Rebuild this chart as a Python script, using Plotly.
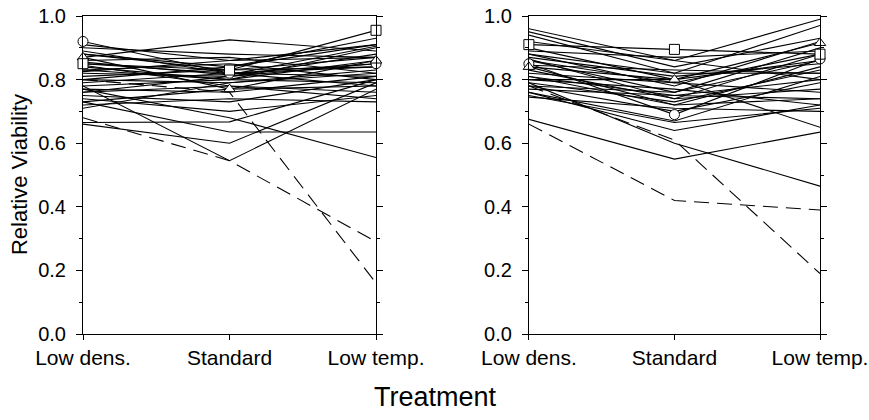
import plotly.graph_objects as go

treatments = ["Low dens.", "Standard", "Low temp."]

# Left panel: each line = viability at [Low dens., Standard, Low temp.]
left_circle = [0.92, 0.82, 0.85]
left_triangle = [0.87, 0.77, 0.86]
left_square = [0.85, 0.83, 0.955]
left_dashed = [
    [0.68, 0.545, 0.29],
    [0.80, 0.76, 0.16],
]
left_lines = [
    [0.665, 0.667, 0.80],
    [0.73, 0.635, 0.635],
    [0.66, 0.60, 0.79],
    [0.78, 0.545, 0.77],
    [0.77, 0.68, 0.555],
    [0.87, 0.925, 0.89],
    [0.91, 0.86, 0.91],
    [0.90, 0.88, 0.87],
    [0.88, 0.84, 0.93],
    [0.86, 0.87, 0.82],
    [0.84, 0.80, 0.90],
    [0.83, 0.85, 0.80],
    [0.82, 0.81, 0.88],
    [0.81, 0.83, 0.84],
    [0.80, 0.79, 0.82],
    [0.79, 0.82, 0.78],
    [0.78, 0.80, 0.86],
    [0.77, 0.76, 0.81],
    [0.76, 0.78, 0.74],
    [0.75, 0.73, 0.80],
    [0.72, 0.74, 0.73],
    [0.71, 0.79, 0.83],
    [0.845, 0.78, 0.76],
    [0.89, 0.82, 0.81],
    [0.825, 0.86, 0.87],
    [0.74, 0.70, 0.75],
    [0.855, 0.815, 0.905],
    [0.88, 0.83, 0.87],
    [0.80, 0.84, 0.91],
    [0.76, 0.81, 0.85],
    [0.83, 0.80, 0.79],
    [0.85, 0.82, 0.84],
    [0.73, 0.77, 0.78],
]

# Right panel
right_circle = [0.85, 0.69, 0.865]
right_triangle = [0.84, 0.80, 0.915]
right_square = [0.91, 0.895, 0.88]
right_dashed = [
    [0.66, 0.42, 0.39],
    [0.78, 0.61, 0.19],
]
right_lines = [
    [0.675, 0.55, 0.635],
    [0.79, 0.60, 0.465],
    [0.76, 0.64, 0.72],
    [0.75, 0.665, 0.71],
    [0.96, 0.86, 0.99],
    [0.95, 0.84, 0.93],
    [0.94, 0.82, 0.97],
    [0.92, 0.86, 0.80],
    [0.89, 0.87, 0.89],
    [0.88, 0.78, 0.92],
    [0.87, 0.81, 0.85],
    [0.86, 0.76, 0.90],
    [0.845, 0.83, 0.82],
    [0.83, 0.74, 0.88],
    [0.82, 0.79, 0.76],
    [0.81, 0.72, 0.84],
    [0.80, 0.77, 0.72],
    [0.79, 0.73, 0.83],
    [0.78, 0.70, 0.79],
    [0.77, 0.75, 0.74],
    [0.76, 0.67, 0.81],
    [0.745, 0.71, 0.70],
    [0.80, 0.80, 0.65],
    [0.865, 0.74, 0.77],
    [0.90, 0.80, 0.86],
    [0.86, 0.79, 0.88],
    [0.81, 0.75, 0.80],
    [0.78, 0.76, 0.86],
    [0.84, 0.72, 0.74],
    [0.88, 0.82, 0.82],
]

xpos = [0, 1, 2]
fig = go.Figure()

def add_panel(xa, ya, lines, dashed, markers):
    for ln in lines:
        fig.add_trace(go.Scatter(x=xpos, y=ln, mode="lines", xaxis=xa, yaxis=ya,
                                 line=dict(color="black", width=1.1), showlegend=False,
                                 hoverinfo="skip"))
    for ln in dashed:
        fig.add_trace(go.Scatter(x=xpos, y=ln, mode="lines", xaxis=xa, yaxis=ya,
                                 line=dict(color="black", width=1.1, dash="15px,8px"),
                                 showlegend=False, hoverinfo="skip"))
    for ln, sym in markers:
        fig.add_trace(go.Scatter(x=xpos, y=ln, mode="lines+markers", xaxis=xa, yaxis=ya,
                                 line=dict(color="black", width=1.1),
                                 marker=dict(symbol=sym, size=10, color="white",
                                             line=dict(color="black", width=1)),
                                 cliponaxis=False, showlegend=False))

add_panel("x", "y", left_lines, left_dashed,
          [(left_circle, "circle"), (left_triangle, "triangle-up"), (left_square, "square")])
add_panel("x2", "y2", right_lines, right_dashed,
          [(right_circle, "circle"), (right_triangle, "triangle-up"), (right_square, "square")])

font = "Liberation Sans, Arial, sans-serif"
xcommon = dict(range=[0, 2], tickvals=xpos, ticktext=treatments, showgrid=False, zeroline=False,
               showline=True, linecolor="black", linewidth=1, mirror=True,
               ticks="outside", ticklen=5, tickcolor="black", automargin=False,
               ticklabeloverflow="allow",
               tickfont=dict(family=font, size=21, color="black"))
ycommon = dict(range=[0, 1], dtick=0.2, tickformat=".1f", showgrid=False, zeroline=False,
               showline=True, linecolor="black", linewidth=1, mirror="ticks",
               ticks="outside", ticklen=6, tickcolor="black", automargin=False,
               ticklabeloverflow="allow", ticklabelstandoff=6,
               minor=dict(dtick=0.1, ticks="outside", ticklen=3, tickcolor="black"),
               tickfont=dict(family=font, size=20, color="black"))

fig.update_layout(
    width=869, height=420,
    margin=dict(l=83, r=49, t=16, b=86),
    paper_bgcolor="white", plot_bgcolor="white",
    xaxis=dict(domain=[0, 0.3976], **xcommon),
    xaxis2=dict(domain=[0.605, 1], anchor="y2", **xcommon),
    yaxis=dict(**ycommon),
    yaxis2=dict(anchor="x2", **ycommon),
    annotations=[
        dict(text="Relative Viability", xref="paper", yref="paper", x=-0.0868, y=0.5,
             xanchor="center", yanchor="middle", textangle=-90, showarrow=False,
             font=dict(family=font, size=22, color="black")),
        dict(text="Treatment", xref="paper", yref="paper", x=0.478, y=-0.198,
             xanchor="center", yanchor="middle", showarrow=False,
             font=dict(family=font, size=27, color="black")),
    ],
)

fig.write_html(
    "out.html",
    config={"displayModeBar": False},
    post_script="document.body.style.margin='0';document.body.style.overflow='hidden';",
)
